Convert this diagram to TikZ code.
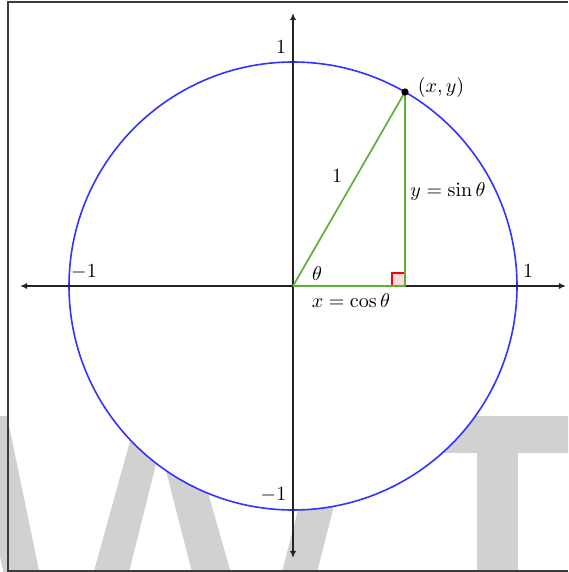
\documentclass[tikz,border=0pt]{standalone}
\usetikzlibrary{arrows.meta}
\definecolor{wmgray}{RGB}{209,209,209}
\definecolor{circblue}{RGB}{51,51,255}
\definecolor{trigreen}{RGB}{96,176,56}
\definecolor{axisc}{RGB}{35,35,35}
\definecolor{framec}{RGB}{60,60,60}
\definecolor{rightfill}{RGB}{255,220,220}
\tikzset{
  wm/.style={fill=wmgray},
  axisline/.style={draw=axisc, line width=0.75pt, {Latex[length=3.6pt,width=3.2pt]}-{Latex[length=3.6pt,width=3.2pt]}},
  unitcirc/.style={draw=circblue, line width=0.8pt, fill=white},
  tri/.style={draw=trigreen, line width=0.85pt},
  rightmark/.style={draw=red, fill=rightfill, line width=0.6pt},
  lbl/.style={inner sep=0pt, text=black},
  framel/.style={draw=framec, line width=1pt},
  ptdot/.style={fill=black}
}
\begin{document}
\begin{tikzpicture}[x=0.5pt,y=-0.5pt]
\useasboundingbox (0,0) rectangle (568,572);
\begin{scope}
\clip (0,0) rectangle (568,572);
% watermark
\fill[wm] (-30,416) -- (7,416) -- (41,580) -- (5,580) -- cycle;
\fill[wm] (91.5,580) -- (127,580) -- (168,416) -- (137,416) -- cycle;
\fill[wm] (152,416) -- (186,416) -- (233,580) -- (194,580) -- cycle;
\fill[wm] (280,580) -- (315,580) -- (357,416) -- (322,416) -- cycle;
\fill[wm] (380,416) rectangle (600,453);
\fill[wm] (477,453) rectangle (518,580);
\end{scope}
% coordinates
\coordinate (O) at (293,286);
\coordinate (P) at (405,92);
\coordinate (F) at (405,286);
\coordinate (xl) at (20,286);
\coordinate (xr) at (566,286);
\coordinate (yt) at (293,13);
\coordinate (yb) at (293,558);
% circle
\draw[unitcirc] (O) circle[radius=224];
% axes
\draw[axisline] (xl) -- (xr);
\draw[axisline] (yb) -- (yt);
% right angle
\draw[rightmark] (F) rectangle (392,273);
% triangle
\draw[tri] (O) -- (P);
\draw[tri] (P) -- (F);
\draw[tri] (O) -- (F);
\fill[ptdot] (P) circle[radius=3.6];
% labels
\node[lbl] (ly1) at (281,47.5) {$1$};
\node[lbl] (lxm1) at (84,272) {$-1$};
\node[lbl] (lx1) at (528,271) {$1$};
\node[lbl] (lym1) at (273.5,495) {$-1$};
\node[lbl] (lp) at (441,88) {$(x,y)$};
\node[lbl] (lhyp) at (337,176.5) {$1$};
\node[lbl] (lsin) at (448,192) {$y=\sin\theta$};
\node[lbl] (lth) at (317,273.5) {$\theta$};
\node[lbl] (lcos) at (351,301) {$x=\cos\theta$};
% frame
\draw[framel] (568,2) -- (8,2) -- (8,571) -- (568,571);
\end{tikzpicture}
\end{document}
